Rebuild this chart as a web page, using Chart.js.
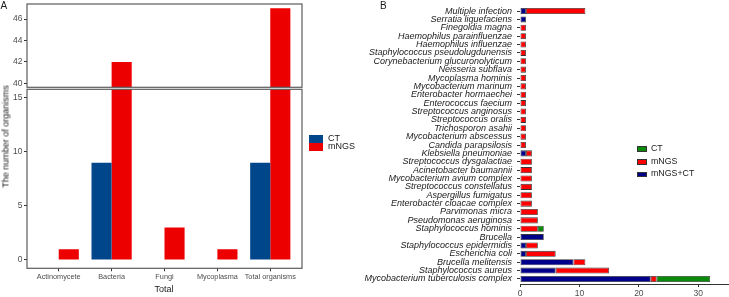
<!DOCTYPE html>
<html><head><meta charset="utf-8">
<script src="https://cdn.jsdelivr.net/npm/chart.js@4.4.1/dist/chart.umd.min.js"></script>
<style>
body{margin:0;background:#fff;}
#wrap{position:relative;width:729px;height:297px;overflow:hidden;background:#fff;font-family:"Liberation Sans",Arial,sans-serif;}
canvas{position:absolute;}
.t{position:absolute;line-height:1;white-space:nowrap;color:#1a1a1a;}
.key{position:absolute;box-sizing:border-box;}
</style></head><body>
<div id="wrap">
<canvas id="aTop" width="303" height="88" style="left:0px;top:0px"></canvas>
<canvas id="aBot" width="303" height="209" style="left:0px;top:88px"></canvas>
<canvas id="b" width="374" height="297" style="left:355px;top:0px"></canvas>

<div class="t" style="left:0.5px;top:0.5px;font-size:10px">A</div>
<div class="t" style="left:380px;top:0.8px;font-size:10px">B</div>
<div class="t" style="left:-94px;top:131.5px;width:200px;height:9px;font-size:9px;text-align:center;transform:rotate(-90deg);">The number of organisms</div>
<div class="t" style="left:114px;top:284.7px;width:100px;font-size:9px;text-align:center;">Total</div>

<div class="key" style="left:309px;top:135px;width:14px;height:8px;background:#00468B"></div>
<div class="key" style="left:309px;top:143px;width:14px;height:8px;background:#ED0000"></div>
<div class="t" style="left:328px;top:134.1px;font-size:9px">CT</div>
<div class="t" style="left:328px;top:141.7px;font-size:9px">mNGS</div>

<div class="key" style="left:637px;top:146px;width:9.7px;height:5.5px;background:#0A8A0A;border:0.8px solid #333"></div>
<div class="key" style="left:637px;top:159px;width:9.7px;height:5.5px;background:#FF0000;border:0.8px solid #333"></div>
<div class="key" style="left:637px;top:171.5px;width:9.7px;height:5.5px;background:#00008B;border:0.8px solid #333"></div>
<div class="t" style="left:651px;top:143.5px;font-size:8.8px">CT</div>
<div class="t" style="left:651px;top:156.5px;font-size:8.8px">mNGS</div>
<div class="t" style="left:651px;top:169.2px;font-size:8.8px">mNGS+CT</div>
</div>
<script>
// ---------- Panel A data ----------
const categoriesA = ['Actinomycete','Bacteria','Fungi','Mycoplasma','Total organisms'];
const ctA = [0, 9, 0, 0, 9];
const mngsA = [1, 42, 3, 1, 47];
const upperTicksA = [40, 42, 44, 46];
const lowerTicksA = [0, 5, 10, 15];

// ---------- Panel B data (top to bottom) ----------
const organismsB = [
  'Multiple infection','Serratia liquefaciens','Finegoldia magna','Haemophilus parainfluenzae',
  'Haemophilus influenzae','Staphylococcus pseudolugdunensis','Corynebacterium glucuronolyticum',
  'Neisseria subflava','Mycoplasma hominis','Mycobacterium marinum','Enterobacter hormaechei',
  'Enterococcus faecium','Streptococcus anginosus','Streptococcus oralis','Trichosporon asahii',
  'Mycobacterium abscessus','Candida parapsilosis','Klebsiella pneumoniae','Streptococcus dysgalactiae',
  'Acinetobacter baumannii','Mycobacterium avium complex','Streptococcus constellatus',
  'Aspergillus fumigatus','Enterobacter cloacae complex','Parvimonas micra','Pseudomonas aeruginosa',
  'Staphylococcus hominis','Brucella','Staphylococcus epidermidis','Escherichia coli',
  'Brucella melitensis','Staphylococcus aureus','Mycobacterium tuberculosis complex'
];
const bothB = [1,1,0,0,0,0,0,0,0,0,0,0,0,0,0,0,0,1,0,0,0,0,0,0,0,0,0,4,1,1,9,6,22];
const mngsB = [10,0,1,1,1,1,1,1,1,1,1,1,1,1,1,1,1,1,2,2,2,2,2,2,3,3,3,0,2,5,2,9,1];
const ctB   = [0,0,0,0,0,0,0,0,0,0,0,0,0,0,0,0,0,0,0,0,0,0,0,0,0,0,1,0,0,0,0,0,9];
const xTicksB = [0, 10, 20, 30];

const FONT = "'Liberation Sans', Arial, sans-serif";

const panelBorder = {
  id: 'panelBorder',
  afterDraw(chart) {
    const a = chart.chartArea, c = chart.ctx;
    c.save();
    c.strokeStyle = '#5c5c5c';
    c.lineWidth = 1.2;
    c.strokeRect(a.left, a.top, a.right - a.left, a.bottom - a.top);
    c.restore();
  }
};
const noPad = s => { s.paddingTop = 0; s.paddingBottom = 0; s.paddingLeft = 0; s.paddingRight = 0; };

function makeA(id, yMin, yMax, yTicks, showX, padTop, padBottom) {
  const toPts = arr => arr.map((v, i) => ({x: i, y: v}));
  return new Chart(document.getElementById(id), {
    type: 'bar',
    data: {datasets: [
      {label: 'CT', data: toPts(ctA), backgroundColor: '#00468B'},
      {label: 'mNGS', data: toPts(mngsA), backgroundColor: '#ED0000'}
    ]},
    plugins: [panelBorder],
    options: {
      responsive: false, animation: false, devicePixelRatio: 1,
      layout: {padding: {top: padTop, bottom: padBottom, left: 0, right: 1}},
      datasets: {bar: {categoryPercentage: 0.76, barPercentage: 1, clip: 0, inflateAmount: 0, borderWidth: 0}},
      plugins: {legend: {display: false}, tooltip: {enabled: false}},
      scales: {
        x: {
          type: 'linear', min: -0.6, max: 4.6, display: showX, offset: false,
          afterBuildTicks: s => { s.ticks = categoriesA.map((_, i) => ({value: i})); },
          afterFit: s => { s.height = showX ? 28.7 : 0; noPad(s); },
          ticks: {autoSkip: false, maxRotation: 0, minRotation: 0, font: {family: FONT, size: 7.3}, color: '#4d4d4d', padding: 1,
                  callback: v => categoriesA[v]},
          grid: {drawOnChartArea: false, tickLength: 3, color: '#333', offset: false},
          border: {display: false}
        },
        y: {
          type: 'linear', min: yMin, max: yMax,
          afterBuildTicks: s => { s.ticks = yTicks.map(v => ({value: v})); },
          afterFit: s => { s.width = 27; noPad(s); },
          ticks: {font: {family: FONT, size: 8.5}, color: '#4d4d4d', padding: 1.5},
          grid: {drawOnChartArea: false, tickLength: 3, color: '#333'},
          border: {display: false}
        }
      }
    }
  });
}

makeA('aTop', 39.63, 47.4, upperTicksA, false, 4, 0.7);
makeA('aBot', -0.77, 15.78, lowerTicksA, true, 1.3, 0);

const toRows = arr => arr.map((v, i) => ({x: v, y: i}));
new Chart(document.getElementById('b'), {
  type: 'bar',
  data: {datasets: [
    {label: 'mNGS+CT', data: toRows(bothB), backgroundColor: '#00008B'},
    {label: 'mNGS', data: toRows(mngsB), backgroundColor: '#FF0000'},
    {label: 'CT', data: toRows(ctB), backgroundColor: '#0A8A0A'}
  ]},
  options: {
    indexAxis: 'y', responsive: false, animation: false, devicePixelRatio: 1,
    layout: {padding: {top: 6, right: 1, left: 0, bottom: 0}},
    datasets: {bar: {barPercentage: 0.72, categoryPercentage: 1, borderColor: '#333', borderWidth: 0.8,
                     borderSkipped: false, inflateAmount: 0, clip: 0}},
    plugins: {legend: {display: false}, tooltip: {enabled: false}},
    scales: {
      x: {
        type: 'linear', min: 0, max: 35, stacked: true, offset: false,
        afterBuildTicks: s => { s.ticks = xTicksB.map(v => ({value: v})); },
        afterFit: s => { s.height = 13; noPad(s); },
        ticks: {font: {family: FONT, size: 8.5}, color: '#4d4d4d', padding: 1.5, maxRotation: 0},
        grid: {drawOnChartArea: false, tickLength: 3, color: '#333', offset: false},
        border: {display: true, color: '#333', width: 1}
      },
      y: {
        type: 'linear', min: -0.6, max: organismsB.length - 0.4, reverse: true, stacked: true, offset: false,
        afterBuildTicks: s => { s.ticks = organismsB.map((_, i) => ({value: i})); },
        afterFit: s => { s.width = 165; noPad(s); },
        ticks: {autoSkip: false, font: {family: FONT, size: 9, style: 'italic'}, color: '#1a1a1a', padding: 5,
                callback: v => organismsB[v]},
        grid: {drawOnChartArea: false, tickLength: 3, color: '#333', offset: false},
        border: {display: false}
      }
    }
  }
});
</script>
</body></html>
